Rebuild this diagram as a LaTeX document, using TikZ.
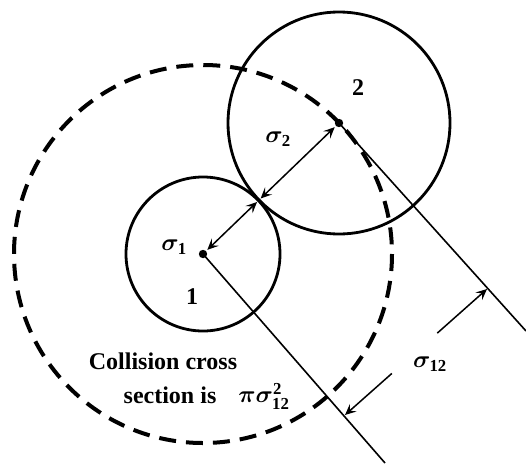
\documentclass[tikz,border=0pt]{standalone}
\usepackage{fix-cm}
\usepackage{amsmath,bm}
\usepackage{fontspec}
\setmainfont{Liberation Serif}
\usetikzlibrary{arrows.meta,calc}

\tikzset{
  ball/.style={line width=2.8pt},
  crosssec/.style={line width=4pt, dash pattern=on 17pt off 10pt},
  guide/.style={line width=1.6pt},
  barb/.tip={Stealth[length=11pt,width=10pt,inset=4.5pt]},
  dimline/.style={line width=1.5pt},
  lbl/.style={font=\fontsize{24}{28}\selectfont\bfseries, inner sep=0pt},
}

\begin{document}
\begin{tikzpicture}[x=1pt,y=-1pt]
    \useasboundingbox (0,0) rectangle (526,463);
    % centres and contact point
    \coordinate (c1) at (203,254);
    \coordinate (c2) at (339,123);
    \coordinate (touch) at ($(c1)!77pt!(c2)$);
    \coordinate (e1) at (385,463);
    \coordinate (e2) at (526,331);
    \coordinate (t1) at (345,415);
    \coordinate (t2) at (487,289);
    % circles
    \draw[crosssec] (c1) circle[radius=189];
    \draw[ball] (c1) circle[radius=77];
    \draw[ball] (c2) circle[radius=111];
    \fill (c1) circle[radius=4.2];
    \fill (c2) circle[radius=4.2];
    % parallel guides
    \draw[guide] (c1) -- (e1);
    \draw[guide] (c2) -- (e2);
    % radii
    \draw[dimline, barb-barb] ($(c1)!6pt!(touch)$) -- ($(touch)!2pt!(c1)$);
    \draw[dimline, barb-barb] ($(touch)!3pt!(c2)$) -- ($(c2)!6pt!(touch)$);
    % sigma_12
    \draw[dimline, -barb] ($(t2)!0.35!(t1)$) -- (t2);
    \draw[dimline, -barb] ($(t1)!0.33!(t2)$) -- (t1);
    % labels
    \node[lbl] (n2) at (358,88) {2};
    \node[lbl] (n1) at (192,297) {1};
    \node[lbl] (s2) at (278,139) {$\bm{\sigma}_{\mathbf{2}}$};
    \node[lbl] (s1) at (174,247) {$\bm{\sigma}_{\mathbf{1}}$};
    \node[lbl] (s12) at (430,364) {$\bm{\sigma}_{\mathbf{12}}$};
    \node[lbl] (cc) at (163,361) {Collision cross};
    \node[lbl] (si) at (170,395) {section is};
    \node[lbl] (area) at (264,396) {$\bm{\pi\sigma}^{\mathbf{2}}_{\mathbf{12}}$};
\end{tikzpicture}
\end{document}
